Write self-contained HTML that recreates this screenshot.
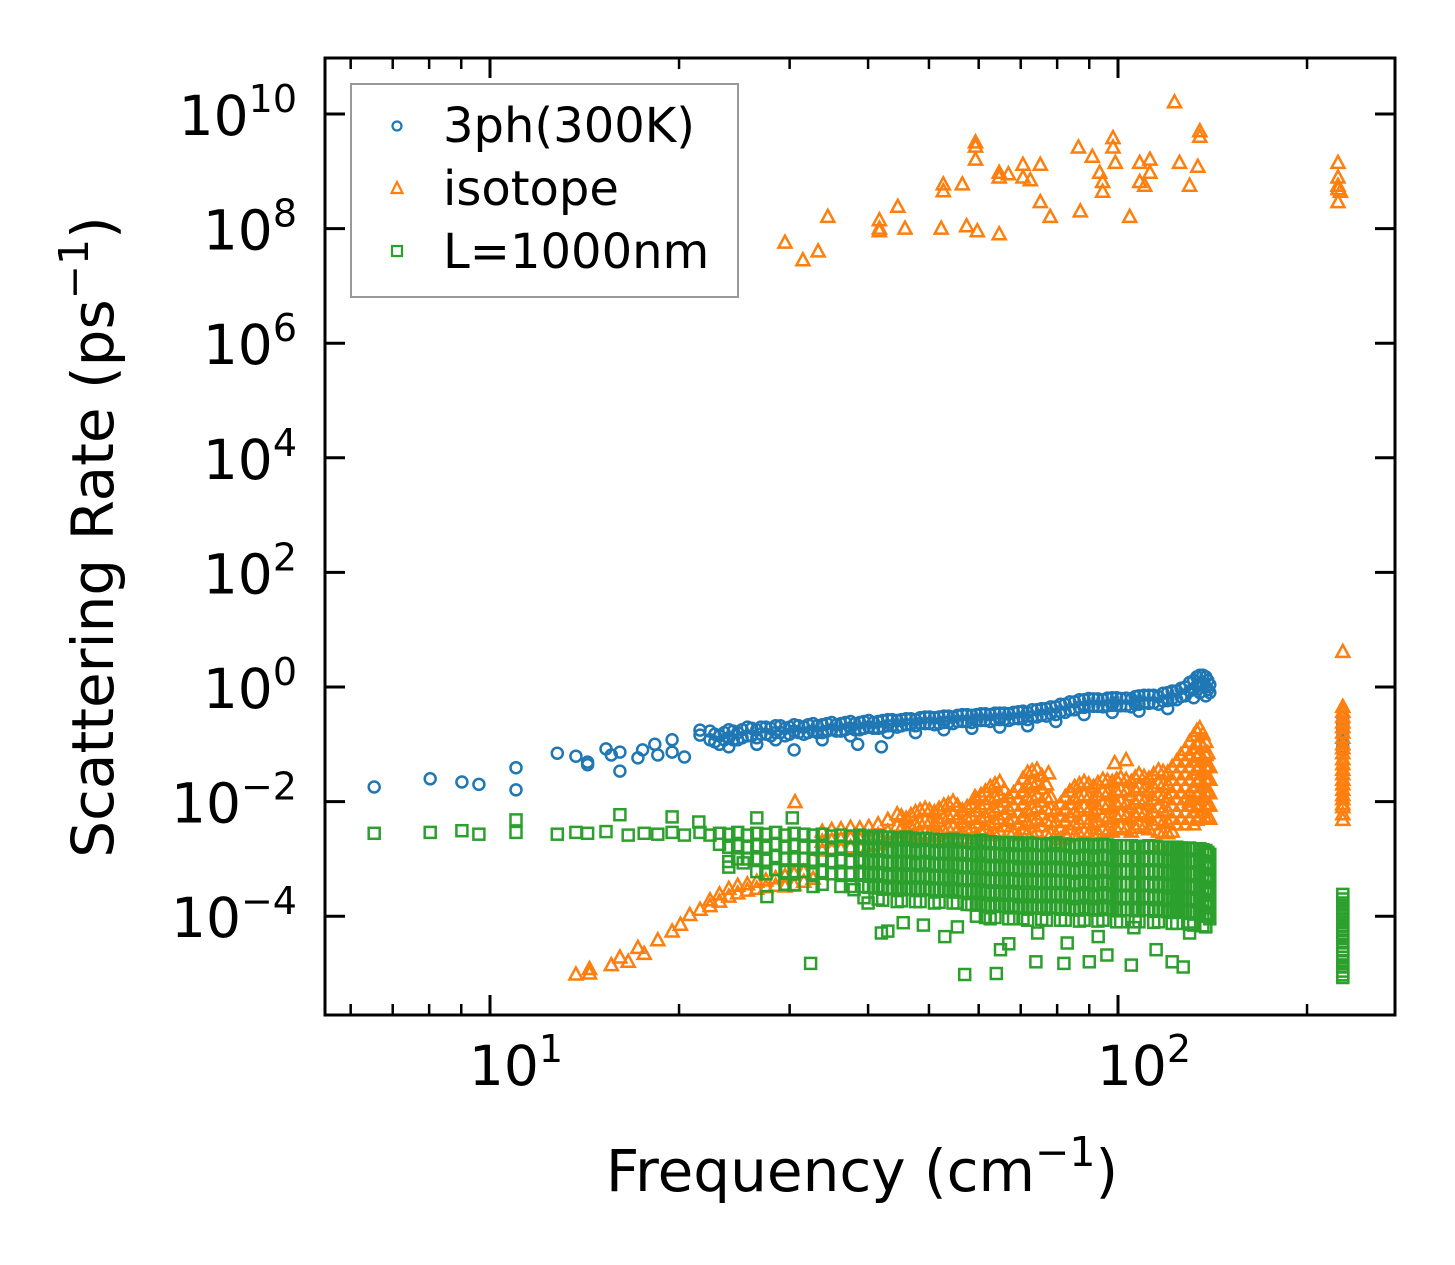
<!DOCTYPE html>
<html><head><meta charset="utf-8">
<style>
html,body{margin:0;padding:0;background:#fff;}
svg{display:block;font-family:"DejaVu Sans","Liberation Sans",sans-serif;}
</style></head>
<body>
<svg id="chart" width="1455" height="1265" viewBox="0 0 1455 1265" xmlns="http://www.w3.org/2000/svg">
<rect x="0" y="0" width="1455" height="1265" fill="#fff"/>
<g id="marks"></g>
<g id="axes"></g>
<g id="legend">
  <rect x="351" y="84" width="387" height="213" fill="#fff" fill-opacity="0.8" stroke="#999" stroke-width="2"/>
  <circle cx="397" cy="126" r="4.5" fill="none" stroke="#1f77b4" stroke-width="2.2"/>
  <text x="443" y="142" font-size="48">3ph(300K)</text>
  <path d="M397,182 L402.5,193 L391.5,193 Z" fill="none" stroke="#ff7f0e" stroke-width="2.2"/>
  <text x="443" y="205" font-size="48">isotope</text>
  <rect x="392" y="246" width="10" height="10" fill="none" stroke="#2ca02c" stroke-width="2.2"/>
  <text x="443" y="268" font-size="48">L=1000nm</text>
</g>
<text x="862" y="1191" font-size="58" text-anchor="middle">Frequency (cm<tspan font-size="41" dy="-25">−1</tspan><tspan dy="25">)</tspan></text>
<text transform="translate(113,537) rotate(-90)" x="0" y="0" font-size="58" text-anchor="middle">Scattering Rate (ps<tspan font-size="41" dy="-25">−1</tspan><tspan dy="25">)</tspan></text>
</svg>
<script>
// ---- data (frequency in cm^-1, rate in ps^-1) ----
const blueFreq = [6.54,8.03,9.02,9.6,11,11,12.8,13.7,14.3,14.3,15.3,15.6,16.1,16.1,17.2,17.5,18.3,18.5,19.5,19.5,20.4,21.6,21.6,42,38.5];
const blueRate = [0.018,0.025,0.022,0.020,0.039,0.016,0.070,0.062,0.049,0.044,0.083,0.065,0.073,0.034,0.058,0.08,0.1,0.065,0.12,0.073,0.06,0.145,0.177,0.09,0.1];
const blueBandFreq = [22.4,23.2,24,24.8,25.7,26.6,27.5,28.5,29.5,30.5,31.6,32.7,33.8,35,36.2,37.5,38.8,40.1,41.5,43,44.5,46,47.6,49.3,51,52.8,54.6,56.5,58.5,60.5,62.6,64.8,67,69.4,71.8,74.3,76.9,79.6,82.4,85.3,88.3,91.4,94.6,97.9,101,105,108,112,116,120,124,128,132,135,138,140,228];
const blueBandRates = [[.17,.12],[.14,.1],[.18,.13,.09],[.16,.12],[.2,.14],[.18,.13,.1],[.2,.15],[.21,.16,.12],[.19,.14],[.22,.17,.08],[.2,.15],[.23,.17],[.22,.16,.12],[.24,.18],[.23,.17],[.25,.19,.14],[.24,.18],[.26,.2],[.25,.19],[.27,.21,.16],[.26,.2],[.28,.22],[.27,.21,.16],[.3,.23],[.29,.22],[.31,.24,.18],[.3,.23],[.33,.25],[.32,.24,.19],[.34,.26],[.33,.25],[.35,.27,.2],[.34,.26],[.37,.28],[.36,.27,.21],[.4,.3],[.42,.31],[.45,.33,.25],[.5,.36],[.55,.4],[.6,.44,.33],[.62,.46],[.6,.45],[.65,.48,.36],[.63,.47],[.62,.45],[.7,.5,.38],[.72,.52],[.68,.5],[.8,.58,.42],[.85,.6],[1.0,.7],[1.3,.9,.65],[1.6,1.1,.8],[1.5,1.0,.7],[1.1,.8],[.3,.22,.18,.14,.11,.09,.08]];
const blueMidFreq = [22.8,23.6,24.4,25.2,26.1,27,28,29,30,31,32.1,33.2,34.4,35.6,36.8,38.1,39.4,40.8,42.2,43.7,45.2,46.8,48.4,50.1,51.9,53.7,55.5,57.5,59.5,61.5,63.7,65.9,68.2,70.6,73,75.6,78.2,81,83.8,86.8,89.8,92.9,96.2,99.5,103,106.5,110,114,118,122,126,130,133.5,136.5,139];
const blueMidRates = [[.15,.11],[.16,.12],[.17,.12],[.18,.13],[.19,.14],[.2,.15],[.19,.14],[.21,.16],[.2,.15],[.21,.16],[.22,.16],[.21,.16],[.23,.17],[.22,.17],[.24,.18],[.23,.18],[.25,.19],[.24,.19],[.26,.2],[.27,.21],[.27,.21],[.28,.22],[.29,.23],[.3,.23],[.3,.23],[.31,.24],[.32,.25],[.33,.25],[.33,.26],[.34,.26],[.35,.27],[.35,.27],[.36,.28],[.38,.29],[.4,.3],[.42,.32],[.45,.34],[.5,.37],[.55,.4],[.6,.44],[.63,.46],[.62,.46],[.64,.47],[.65,.48],[.64,.47],[.68,.5],[.72,.53],[.72,.53],[.78,.57],[.85,.62],[.95,.68],[1.2,.85],[1.5,1.05],[1.6,1.1],[1.3,.9]];

const isoHighFreq = [29.5,31.5,33.3,34.5,41.7,41.7,41.7,44.6,45.8,52.3,52.7,52.7,56.5,57.4,59.3,59.3,59.3,59.7,64.7,64.7,64.7,66.9,70.6,70.6,72.5,75.2,75.2,78,86.5,87.1,91,93.5,94.5,94.5,98.2,98.2,99,104.4,108.3,108.3,110.3,112.4,112.4,123,125.3,130,134,135,135,224,224,224,224,224,226];
const isoHighRate = [5.7e7,2.8e7,4e7,1.6e8,1.4e8,1e8,9e7,2.4e8,1e8,1e8,5.9e8,4.5e8,5.9e8,1.1e8,2.7e9,1.6e9,3.2e9,9e7,8e7,9.4e8,7.8e8,8.9e8,1.3e9,7.8e8,7e8,1.3e9,2.9e8,1.6e8,2.6e9,2e8,1.8e9,9.4e8,4.4e8,6.5e8,3.8e9,2.6e9,1.4e9,1.6e8,1.4e9,6.5e8,5.6e8,1.6e9,9.4e8,1.6e10,1.4e9,5.6e8,1.2e9,4e9,5e9,1.4e9,7.8e8,5.6e8,4.9e8,2.9e8,4.4e8];
const isoLowFreq = [13.7,14.4,14.4,15.6,16.1,16.6,17.2,17.6,18.5,19.5,20.1,20.8,21.6,30.6,77.5,98.8,103,59.2,83,117,118,130,228];
const isoLowRate = [9.6e-6,1.0e-5,1.2e-5,1.4e-5,1.9e-5,1.6e-5,2.8e-5,2.2e-5,3.8e-5,5.4e-5,7.1e-5,1.05e-4,1.3e-4,9.8e-3,3.1e-2,4.7e-2,5.3e-2,1.2e-2,2.4e-3,1.7e-3,2.8e-3,1e-2,4.1];
const isoBandFreq = [22.4,23.2,24,24.8,25.7,26.6,27.5,28.5,29.5,30.5,31.6,32.7,33.8,35,36.2,37.5,38.8,40.1,41.5,43,44.5,46,47.6,49.3,51,52.8,54.6,56.5,58.5,60.5,62.6,64.8,67,69.4,71.8,74.3,76.9,79.6,82.4,85.3,88.3,91.4,94.6,97.9,101,105,108,112,116,120,124,128,132,135,138,140,228];
const isoBandRates = [[1.5e-4,1.9e-4],[1.8e-4,2.4e-4],[2.2e-4,3e-4],[2.5e-4,3.4e-4],[2.8e-4,3.6e-4],[3e-4,4e-4],[3.2e-4,4.2e-4],[3.4e-4,4.6e-4],[3.3e-4,5e-4],[3.5e-4,5.5e-4],[4e-4,6e-4],[4.5e-4],
[3e-3,2e-3,1.4e-3],[3.2e-3,2.1e-3,1.5e-3],[3.3e-3,2.2e-3,1.5e-3],[3.5e-3,2.3e-3,1.6e-3],[3.4e-3,2.2e-3,1.6e-3],[3.6e-3,2.4e-3,1.7e-3],[4e-3,2.6e-3,1.8e-3],[4.8e-3,3e-3,2e-3],[6e-3,3.8e-3,2.4e-3],[5e-3,3.2e-3,2.1e-3],[6.5e-3,4e-3,2.5e-3],[7.5e-3,4.6e-3,2.8e-3],[6.5e-3,4e-3,2.5e-3],[8.5e-3,5.2e-3,3.2e-3,2.2e-3],[1e-2,6e-3,3.6e-3,2.3e-3],[7e-3,4.4e-3,2.8e-3],[9e-3,5.5e-3,3.4e-3,2.3e-3],[1.3e-2,8e-3,5e-3,3e-3],[1.8e-2,1.1e-2,6.5e-3,4e-3,2.6e-3],[2.2e-2,1.3e-2,8e-3,5e-3,3e-3],[1.2e-2,7.5e-3,4.6e-3,3e-3],[1.8e-2,1.1e-2,6.5e-3,4e-3,2.6e-3],[3.2e-2,2e-2,1.2e-2,7e-3,4.4e-3,2.8e-3],[3.6e-2,2.2e-2,1.3e-2,8e-3,5e-3,3e-3],[2e-2,1.2e-2,7.5e-3,4.6e-3,2.8e-3],[7e-3,4.4e-3,2.6e-3,1.9e-3],[1.2e-2,7.5e-3,4.6e-3,2.8e-3],[1.8e-2,1.1e-2,6.5e-3,4e-3,2.6e-3],[2.2e-2,1.3e-2,8e-3,5e-3,3e-3],[1.8e-2,1.1e-2,6.5e-3,4e-3,2.6e-3],[2.4e-2,1.5e-2,9e-3,5.5e-3,3.3e-3],[2.2e-2,1.3e-2,8e-3,5e-3,3e-3],[2.6e-2,1.6e-2,1e-2,6e-3,3.6e-3],[2.2e-2,1.3e-2,8e-3,5e-3,3e-3],[3e-2,1.8e-2,1.1e-2,6.5e-3,4e-3],[2.5e-2,1.5e-2,9e-3,5.5e-3,3.3e-3],[3.5e-2,2.1e-2,1.3e-2,8e-3,4.8e-3,3e-3],[3.2e-2,2e-2,1.2e-2,7e-3,4.4e-3,2.8e-3],[5e-2,3e-2,1.8e-2,1.1e-2,6.5e-3,4e-3],[8e-2,5e-2,3e-2,1.8e-2,1.1e-2,6.5e-3,4e-3],[1.4e-1,8.5e-2,5e-2,3e-2,1.8e-2,1.1e-2,6.5e-3,4e-3],[1.9e-1,1.1e-1,7e-2,4.2e-2,2.5e-2,1.5e-2,9e-3,5.5e-3],[1.1e-1,6.5e-2,4e-2,2.4e-2,1.4e-2,8.5e-3,5e-3],[4e-2,2.4e-2,1.4e-2,8.5e-3,5e-3],
[.45,.37,.3,.24,.2,.16,.13,.1,.085,.07,.055,.045,.036,.03,.024,.02,.016,.013,.011,.009,.008,.006,.0048]];
const isoMidFreq = [45.2,46.8,48.4,50.1,51.9,53.7,55.5,57.5,59.5,61.5,63.7,65.9,68.2,70.6,73,75.6,78.2,81,83.8,86.8,89.8,92.9,96.2,99.5,103,106.5,110,114,118,122,126,130,133.5,136.5,139];
const isoMidRates = [[5.5e-3,3.4e-3,2.2e-3],[5.8e-3,3.6e-3,2.3e-3],[7e-3,4.3e-3,2.7e-3],[7e-3,4.3e-3,2.7e-3],[7.5e-3,4.6e-3,2.8e-3],[9e-3,5.5e-3,3.4e-3],[8.5e-3,5.2e-3,3.2e-3],[8e-3,5e-3,3.1e-3],[1.1e-2,6.8e-3,4.2e-3,2.6e-3],[1.5e-2,9e-3,5.5e-3,3.3e-3],[2e-2,1.2e-2,7e-3,4.4e-3,2.7e-3],[1.6e-2,1e-2,6e-3,3.7e-3],[1.4e-2,8.5e-3,5e-3,3e-3],[2.5e-2,1.5e-2,9e-3,5.5e-3,3.3e-3],[3.4e-2,2.1e-2,1.2e-2,7.5e-3,4.6e-3,2.8e-3],[2.8e-2,1.7e-2,1e-2,6e-3,3.7e-3],[1.2e-2,7.5e-3,4.5e-3,2.7e-3],[9e-3,5.5e-3,3.3e-3,2.2e-3],[1.5e-2,9e-3,5.5e-3,3.3e-3],[2e-2,1.2e-2,7e-3,4.3e-3,2.7e-3],[2e-2,1.2e-2,7e-3,4.3e-3,2.7e-3],[2.1e-2,1.3e-2,7.5e-3,4.5e-3,2.8e-3],[2.3e-2,1.4e-2,8.5e-3,5e-3,3e-3],[2.4e-2,1.5e-2,9e-3,5.5e-3,3.3e-3],[2.4e-2,1.5e-2,9e-3,5.5e-3,3.3e-3],[2.6e-2,1.6e-2,9.5e-3,5.7e-3,3.5e-3],[2.7e-2,1.6e-2,1e-2,6e-3,3.6e-3],[3e-2,1.8e-2,1.1e-2,6.5e-3,4e-3],[3.3e-2,2e-2,1.2e-2,7e-3,4.3e-3],[4e-2,2.4e-2,1.4e-2,8.5e-3,5e-3,3e-3],[6.5e-2,4e-2,2.4e-2,1.4e-2,8.5e-3,5e-3],[1.1e-1,6.5e-2,4e-2,2.4e-2,1.4e-2,8.5e-3,5e-3],[1.7e-1,1e-1,6e-2,3.6e-2,2.2e-2,1.3e-2,8e-3,4.8e-3],[1.5e-1,9e-2,5.5e-2,3.3e-2,2e-2,1.2e-2,7e-3],[7e-2,4.2e-2,2.5e-2,1.5e-2,9e-3,5.5e-3]];

const bdyFreq = [6.54,8.03,9.02,9.6,11,11,12.8,13.7,14.3,15.3,16.1,16.6,17.6,18.5,19.5,19.5,20.4,21.5,21.6,22.4,24,25.3,26.6,30.3,27.6,38,40,32.4,57,64,74,82,90,96,105,127,122,42,43,53,65,67,83,115,45.5,49,55.5,74.5,93,106,130];
const bdyRate = [2.8e-3,2.9e-3,3.1e-3,2.7e-3,4.8e-3,2.9e-3,2.7e-3,2.9e-3,2.8e-3,3.0e-3,5.9e-3,2.6e-3,2.8e-3,2.7e-3,2.9e-3,5.4e-3,2.6e-3,4.4e-3,2.9e-3,2.6e-3,7.2e-4,8.5e-4,5.2e-3,5.2e-3,2.2e-4,2.9e-4,1.7e-4,1.5e-5,9.6e-6,1.0e-5,1.6e-5,1.5e-5,1.6e-5,2.1e-5,1.4e-5,1.3e-5,1.6e-5,5.1e-5,5.5e-5,4.4e-5,2.6e-5,3.3e-5,3.4e-5,2.6e-5,7.7e-5,7.0e-5,6.5e-5,5.1e-5,4.4e-5,6.3e-5,5.1e-5];
const bdyBandFreq = [23.2,24,24.8,25.7,26.6,27.5,28.5,29.5,30.5,31.6,32.7,33.8,35,36.2,37.5,38.8,40.1,41.5,43,44.5,46,47.6,49.3,51,52.8,54.6,56.5,58.5,60.5,62.6,64.8,67,69.4,71.8,74.3,76.9,79.6,82.4,85.3,88.3,91.4,94.6,97.9,101,105,108,112,116,120,124,128,132,135,138,140,228];
const bdyBandRates = [[2.8e-3,1.8e-3],[2.7e-3,1.6e-3,9e-4],[2.9e-3,1.7e-3,1e-3],[2.6e-3,1.6e-3,1e-3],[2.8e-3,1.7e-3,1e-3,6e-4],[2.7e-3,1.6e-3,9.5e-4,5.5e-4],[2.9e-3,1.8e-3,1.1e-3,6.5e-4],[2.6e-3,1.6e-3,1e-3,6e-4,3.6e-4],[2.8e-3,1.7e-3,1e-3,6e-4,3.5e-4],[2.7e-3,1.6e-3,1e-3,6e-4],[2.6e-3,1.6e-3,9.5e-4,5.5e-4,3.3e-4],[2.7e-3,1.6e-3,1e-3,6e-4,3.6e-4],[2.5e-3,1.5e-3,9e-4,5.5e-4],[2.6e-3,1.6e-3,9.5e-4,5.5e-4,3.3e-4],[2.5e-3,1.5e-3,9e-4,5.5e-4,3.3e-4],[2.6e-3,1.6e-3,9.5e-4,5.5e-4],[2.4e-3,1.5e-3,9e-4,5.5e-4,3.2e-4],[2.5e-3,1.5e-3,9e-4,5.5e-4,3.3e-4,2e-4],[2.4e-3,1.4e-3,8.5e-4,5e-4,3e-4],[2.3e-3,1.4e-3,8.5e-4,5e-4,3e-4,1.8e-4],[2.4e-3,1.4e-3,8.5e-4,5e-4,3e-4],[2.2e-3,1.3e-3,8e-4,5e-4,3e-4,1.8e-4],[2.3e-3,1.4e-3,8.5e-4,5e-4,3e-4],[2.2e-3,1.3e-3,8e-4,4.8e-4,2.9e-4,1.7e-4],[2.1e-3,1.3e-3,8e-4,4.8e-4,2.9e-4],[2.2e-3,1.3e-3,8e-4,4.8e-4,2.9e-4,1.7e-4],[2.1e-3,1.3e-3,7.5e-4,4.5e-4,2.7e-4],[2e-3,1.2e-3,7.5e-4,4.5e-4,2.7e-4,1.6e-4],[2.1e-3,1.3e-3,7.5e-4,4.5e-4,2.7e-4,1.6e-4],[2e-3,1.2e-3,7e-4,4.2e-4,2.5e-4,1.5e-4,9e-5],[1.9e-3,1.2e-3,7e-4,4.2e-4,2.5e-4,1.5e-4],[1.9e-3,1.1e-3,7e-4,4.2e-4,2.5e-4,1.5e-4,9e-5],[1.8e-3,1.1e-3,6.5e-4,4e-4,2.4e-4,1.4e-4],[1.9e-3,1.1e-3,6.5e-4,4e-4,2.4e-4,1.4e-4,8.5e-5],[1.8e-3,1.1e-3,6.5e-4,4e-4,2.4e-4,1.4e-4],[1.8e-3,1.1e-3,6.5e-4,4e-4,2.4e-4,1.4e-4,8.5e-5],[1.9e-3,1.1e-3,6.5e-4,4e-4,2.4e-4,1.4e-4],[1.8e-3,1.1e-3,6.5e-4,4e-4,2.4e-4,1.4e-4,8.5e-5],[1.7e-3,1e-3,6e-4,3.6e-4,2.2e-4,1.3e-4],[1.8e-3,1.1e-3,6.5e-4,4e-4,2.4e-4,1.4e-4,8.5e-5],[1.7e-3,1e-3,6e-4,3.6e-4,2.2e-4,1.3e-4],[1.8e-3,1.1e-3,6.5e-4,4e-4,2.4e-4,1.4e-4,8.5e-5],[1.7e-3,1e-3,6e-4,3.6e-4,2.2e-4,1.3e-4],[1.7e-3,1e-3,6e-4,3.6e-4,2.2e-4,1.3e-4,8e-5],[1.7e-3,1e-3,6e-4,3.6e-4,2.2e-4,1.3e-4],[1.6e-3,1e-3,6e-4,3.6e-4,2.2e-4,1.3e-4,8e-5],[1.7e-3,1e-3,6e-4,3.6e-4,2.2e-4,1.3e-4],[1.6e-3,1e-3,6e-4,3.6e-4,2.2e-4,1.3e-4,8e-5],[1.6e-3,9.5e-4,5.7e-4,3.4e-4,2e-4,1.2e-4],[1.6e-3,9.5e-4,5.7e-4,3.4e-4,2e-4,1.2e-4,7.5e-5],[1.5e-3,9e-4,5.5e-4,3.3e-4,2e-4,1.2e-4],[1.5e-3,9e-4,5.5e-4,3.3e-4,2e-4,1.2e-4,7e-5],[1.5e-3,9e-4,5.5e-4,3.3e-4,2e-4,1.2e-4],[1.4e-3,8.5e-4,5e-4,3e-4,1.8e-4,1.1e-4,6.5e-5],[1.2e-3,7e-4,4.2e-4,2.5e-4,1.5e-4,9e-5],
[2.4e-4,2e-4,1.7e-4,1.4e-4,1.2e-4,1e-4,8.5e-5,7e-5,6e-5,5e-5,4.3e-5,3.6e-5,3e-5,2.6e-5,2.2e-5,1.9e-5,1.6e-5,1.3e-5,1.1e-5,9.5e-6,8.5e-6]];
const bdyMidFreq = [39.4,40.8,42.2,43.7,45.2,46.8,48.4,50.1,51.9,53.7,55.5,57.5,59.5,61.5,63.7,65.9,68.2,70.6,73,75.6,78.2,81,83.8,86.8,89.8,92.9,96.2,99.5,103,106.5,110,114,118,122,126,130,133.5,136.5,139];
const bdyMidRates = [[2.5e-3,1.5e-3,9e-4,5.5e-4,3.3e-4,2.1e-4],[2.4e-3,1.45e-3,8.8e-4,5.3e-4,3.2e-4],[2.4e-3,1.45e-3,8.8e-4,5.3e-4,3.2e-4,1.9e-4],[2.35e-3,1.4e-3,8.6e-4,5.2e-4,3.1e-4],[2.3e-3,1.4e-3,8.5e-4,5.1e-4,3.1e-4,1.85e-4],[2.3e-3,1.4e-3,8.4e-4,5e-4,3e-4],[2.25e-3,1.35e-3,8.2e-4,4.9e-4,3e-4,1.8e-4],[2.2e-3,1.35e-3,8.1e-4,4.9e-4,2.9e-4],[2.15e-3,1.3e-3,7.9e-4,4.8e-4,2.9e-4,1.75e-4],[2.15e-3,1.3e-3,7.8e-4,4.7e-4,2.8e-4],[2.1e-3,1.27e-3,7.7e-4,4.6e-4,2.8e-4,1.7e-4],[2.05e-3,1.25e-3,7.5e-4,4.5e-4,2.7e-4,1.6e-4],[2e-3,1.22e-3,7.3e-4,4.4e-4,2.7e-4,1.6e-4,1e-4],[2e-3,1.2e-3,7.2e-4,4.3e-4,2.6e-4,1.55e-4,9.5e-5],[1.95e-3,1.18e-3,7.1e-4,4.3e-4,2.6e-4,1.55e-4,9.5e-5],[1.9e-3,1.15e-3,7e-4,4.2e-4,2.5e-4,1.5e-4],[1.9e-3,1.15e-3,7e-4,4.2e-4,2.5e-4,1.5e-4,9e-5],[1.85e-3,1.12e-3,6.8e-4,4.1e-4,2.45e-4,1.45e-4,9e-5],[1.85e-3,1.12e-3,6.8e-4,4.1e-4,2.45e-4,1.45e-4],[1.8e-3,1.1e-3,6.6e-4,4e-4,2.4e-4,1.45e-4,8.8e-5],[1.85e-3,1.12e-3,6.7e-4,4e-4,2.4e-4,1.45e-4],[1.8e-3,1.1e-3,6.5e-4,4e-4,2.4e-4,1.4e-4,8.5e-5],[1.75e-3,1.05e-3,6.3e-4,3.8e-4,2.3e-4,1.35e-4],[1.75e-3,1.05e-3,6.3e-4,3.8e-4,2.3e-4,1.35e-4,8.2e-5],[1.75e-3,1.05e-3,6.3e-4,3.8e-4,2.3e-4,1.35e-4],[1.75e-3,1.05e-3,6.3e-4,3.8e-4,2.3e-4,1.35e-4,8.2e-5],[1.75e-3,1.05e-3,6.3e-4,3.8e-4,2.3e-4,1.35e-4],[1.7e-3,1e-3,6e-4,3.6e-4,2.2e-4,1.3e-4,8e-5],[1.7e-3,1e-3,6e-4,3.6e-4,2.2e-4,1.3e-4],[1.65e-3,1e-3,6e-4,3.6e-4,2.2e-4,1.3e-4,8e-5],[1.65e-3,1e-3,6e-4,3.6e-4,2.2e-4,1.3e-4],[1.65e-3,1e-3,6e-4,3.5e-4,2.1e-4,1.25e-4,7.8e-5],[1.6e-3,9.7e-4,5.8e-4,3.5e-4,2.1e-4,1.25e-4],[1.6e-3,9.7e-4,5.8e-4,3.5e-4,2.1e-4,1.25e-4,7.5e-5],[1.55e-3,9.3e-4,5.6e-4,3.4e-4,2e-4,1.2e-4],[1.55e-3,9.2e-4,5.5e-4,3.3e-4,2e-4,1.2e-4,7.2e-5],[1.5e-3,9e-4,5.4e-4,3.2e-4,1.9e-4,1.15e-4],[1.45e-3,8.7e-4,5.2e-4,3.1e-4,1.9e-4,1.1e-4,6.8e-5],[1.3e-3,8e-4,4.8e-4,2.9e-4,1.7e-4,1e-4]];

const yTickExps = [-4,-2,0,2,4,6,8,10];
const xTickExps = [1,2];
const xMinorTicks = [6,7,8,9,20,30,40,50,60,70,80,90,200];

// ---- scales ----
const PL=325, PR=1395, PT=58, PB=1015;
const X0=490, XDEC=628, Y0=687, YDEC=57.3;
function fx(f){ return X0 + XDEC*(Math.log10(f)-1); }
function fy(r){ return Y0 - YDEC*Math.log10(r); }

const NS='http://www.w3.org/2000/svg';
const marks=document.getElementById('marks');
const axes=document.getElementById('axes');
function mk(tag, parent){ const e=document.createElementNS(NS,tag); parent.appendChild(e); return e; }

function circle(f,r,parent){
  const e=mk('circle',parent);
  
  
  e.setAttribute('cx',fx(f).toFixed(1)); e.setAttribute('cy',fy(r).toFixed(1));
  e.setAttribute('r','5.5'); e.setAttribute('fill','none');
  e.setAttribute('stroke','#1f77b4'); e.setAttribute('stroke-width','2.5');
}
function tri(f,r,parent){
  const x=fx(f), y=fy(r);
  const e=mk('path',parent);
  
  
  e.setAttribute('d',`M${x.toFixed(1)},${(y-7).toFixed(1)} L${(x+6.5).toFixed(1)},${(y+5).toFixed(1)} L${(x-6.5).toFixed(1)},${(y+5).toFixed(1)} Z`);
  e.setAttribute('fill','none'); e.setAttribute('stroke','#ff7f0e'); e.setAttribute('stroke-width','2.5');
}
function sq(f,r,parent){
  const e=mk('rect',parent);
  
  
  e.setAttribute('x',(fx(f)-5.5).toFixed(1)); e.setAttribute('y',(fy(r)-5.5).toFixed(1));
  e.setAttribute('width','11'); e.setAttribute('height','11');
  e.setAttribute('fill','none'); e.setAttribute('stroke','#2ca02c'); e.setAttribute('stroke-width','2.5');
}

const gB=mk('g',marks);


blueFreq.forEach((f,i)=>circle(f,blueRate[i],gB));
blueBandFreq.forEach((f,i)=>blueBandRates[i].forEach(r=>circle(f,r,gB)));
blueMidFreq.forEach((f,i)=>blueMidRates[i].forEach(r=>circle(f,r,gB)));

const gO=mk('g',marks);


isoHighFreq.forEach((f,i)=>tri(f,isoHighRate[i],gO));
isoLowFreq.forEach((f,i)=>tri(f,isoLowRate[i],gO));
isoBandFreq.forEach((f,i)=>isoBandRates[i].forEach(r=>tri(f,r,gO)));
isoMidFreq.forEach((f,i)=>isoMidRates[i].forEach(r=>tri(f,r,gO)));

const gG=mk('g',marks);


bdyFreq.forEach((f,i)=>sq(f,bdyRate[i],gG));
bdyBandFreq.forEach((f,i)=>bdyBandRates[i].forEach(r=>sq(f,r,gG)));
bdyMidFreq.forEach((f,i)=>bdyMidRates[i].forEach(r=>sq(f,r,gG)));

// ---- axes ----
function line(x1,y1,x2,y2,w,name){
  const e=mk('line',axes);
  
  
  e.setAttribute('x1',x1); e.setAttribute('y1',y1); e.setAttribute('x2',x2); e.setAttribute('y2',y2);
  e.setAttribute('stroke','#000'); e.setAttribute('stroke-width',w);
}
yTickExps.forEach(p=>{
  const y=fy(Math.pow(10,p));
  line(PL,y,PL+20,y,3,'y-major-tick');
  line(PR-20,y,PR,y,3,'y-major-tick-right');
  const t=mk('text',axes);
  
  
  t.setAttribute('x',297); t.setAttribute('y',(y+21).toFixed(1));
  t.setAttribute('font-size','55'); t.setAttribute('text-anchor','end');
  t.innerHTML='10<tspan font-size="38" dy="-23">'+(p<0?'−'+(-p):p)+'</tspan>';
});
xTickExps.forEach(p=>{
  const x=fx(Math.pow(10,p));
  line(x,PB,x,PB-20,3,'x-major-tick');
  line(x,PT,x,PT+20,3,'x-major-tick-top');
  const t=mk('text',axes);
  
  
  t.setAttribute('x',(x+26).toFixed(1)); t.setAttribute('y',1085);
  t.setAttribute('font-size','55'); t.setAttribute('text-anchor','middle');
  t.innerHTML='10<tspan font-size="38" dy="-23">'+p+'</tspan>';
});
xMinorTicks.forEach(v=>{
  const x=fx(v);
  line(x,PB,x,PB-11,2.5,'x-minor-tick');
  line(x,PT,x,PT+11,2.5,'x-minor-tick-top');
});
const frame=mk('rect',axes);


frame.setAttribute('x',PL); frame.setAttribute('y',PT);
frame.setAttribute('width',PR-PL); frame.setAttribute('height',PB-PT);
frame.setAttribute('fill','none'); frame.setAttribute('stroke','#000'); frame.setAttribute('stroke-width','3');
</script>
</body></html>
